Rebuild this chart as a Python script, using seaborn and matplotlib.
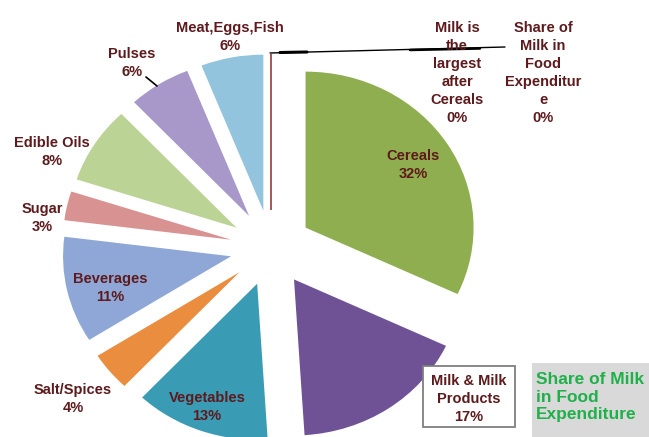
import matplotlib
matplotlib.use("Agg")
import matplotlib.pyplot as plt
import seaborn as sns
from matplotlib.patches import Rectangle

# Share of food expenditure by item (percent)
categories = ["Cereals", "Milk & Milk Products", "Vegetables", "Salt/Spices",
              "Beverages", "Sugar", "Edible Oils", "Pulses", "Meat,Eggs,Fish",
              "Milk is the largest after Cereals",
              "Share of Milk in Food Expenditure"]
shares = [32, 17, 13, 4, 11, 3, 8, 6, 6, 0, 0]
label_text = ["Cereals", "Milk & Milk\nProducts", "Vegetables", "Salt/Spices",
              "Beverages", "Sugar", "Edible Oils", "Pulses", "Meat,Eggs,Fish",
              "Milk is\nthe\nlargest\nafter\nCereals",
              "Share of\nMilk in\nFood\nExpenditur\ne"]
slice_colors = ["#8FAE4F", "#6F5296", "#3A9BB5", "#EA8D3E", "#8FA7D7",
                "#D99292", "#BBD496", "#A898C9", "#93C4DD", "#FFFFFF", "#FFFFFF"]

W, H = 649, 437
sns.set_style("white")
plt.rcParams["font.family"] = ["Liberation Sans", "DejaVu Sans"]

fig = plt.figure(figsize=(W / 100, H / 100), dpi=100)

# pie axes: slightly wider than tall (oval pie)
cx, cy = 271, 248          # centre in pixels from top-left
ry, stretch, gap = 156, 1.077, 38
pax = fig.add_axes([0, 0, 1, 1])
wedges, _ = pax.pie(shares, colors=slice_colors, startangle=90, counterclock=False,
                    center=(0, 0), radius=ry, explode=[gap] * len(shares),
                    wedgeprops=dict(linewidth=0))
for w, v in zip(wedges, shares):
    if v == 0:
        w.set_edgecolor("#A85A5A")
        w.set_linewidth(1.3)
pax.set_xlim(-cx / stretch, (W - cx) / stretch)
pax.set_ylim(-(H - cy), cy)
pax.set_aspect("auto")
pax.axis("off")

# overlay axes in pixel units for labels and notes
ax = fig.add_axes([0, 0, 1, 1])
ax.set_xlim(0, W)
ax.set_ylim(0, H)
ax.axis("off")
ax.patch.set_alpha(0)

def Y(y):
    return H - y

label_color = "#5E1A1C"
label_pos = [(413, 165), (469, 399), (207, 407), (73, 399), (110, 288),
             (42, 218), (52, 152), (132, 63), (230, 37), (457, 73), (543, 73)]
for name, v, (x, y) in zip(label_text, shares, label_pos):
    ax.text(x, Y(y), f"{name}\n{v}%", ha="center", va="center",
            multialignment="center", fontsize=10.5, fontweight="bold",
            color=label_color, linespacing=1.35, zorder=5)

# box around the milk label
ax.add_patch(Rectangle((423, Y(427)), 92, 61, facecolor="white",
                       edgecolor="#7F7F7F", linewidth=1.3, zorder=4))

# leader lines
ax.plot([270, 505], [Y(53), Y(47)], color="black", linewidth=1.0, zorder=3)
ax.plot([280, 307], [Y(52.5), Y(52)], color="black", linewidth=2.2, zorder=3)
ax.plot([410, 480], [Y(50), Y(48.5)], color="black", linewidth=1.8, zorder=3)
ax.plot([146, 157], [Y(77), Y(86)], color="black", linewidth=1.2, zorder=3)

# highlighted note
ax.add_patch(Rectangle((532, 0), W - 532, Y(363), facecolor="#D9D9D9",
                       edgecolor="none", zorder=4))
ax.text(536, Y(397), "Share of Milk\nin Food\nExpenditure", ha="left", va="center",
        fontsize=12.5, fontweight="bold", color="#1FB04A", linespacing=1.2, zorder=5)

fig.savefig("out.png", dpi=100)
